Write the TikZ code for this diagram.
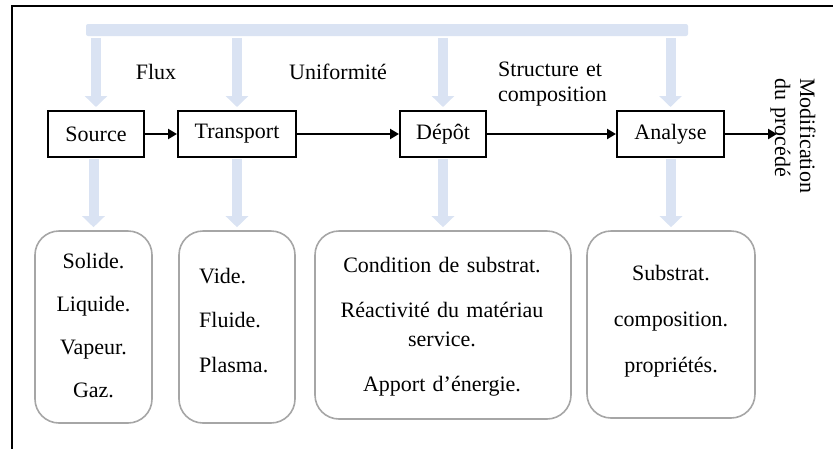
\documentclass[tikz,border=0pt]{standalone}
\usepackage{fontspec}
\setmainfont{Liberation Serif}
\usetikzlibrary{arrows.meta}
\definecolor{lblue}{RGB}{218,227,243}
\definecolor{rgray}{RGB}{166,166,166}
\begin{document}
\begin{tikzpicture}[x=1pt,y=-1pt,
  every node/.style={font=\fontsize{22}{26}\selectfont, inner sep=0pt},
  stage/.style={draw, line width=2pt, minimum height=46pt},
  rbox/.style={draw=rgray, line width=1.6pt, rounded corners=24pt},
  flow/.style={line width=2.8pt, -{Triangle[length=9pt,width=10pt]}},
  barrow/.style={draw=lblue, line width=10pt, -{Triangle[length=11pt,width=22pt]}},
]
\useasboundingbox (0,0) rectangle (833,448);
% outer frame (only top and left edges lie inside the picture)
\draw[line width=2.2pt] (12,470) -- (12,6) -- (860,6);

% top feedback bar
\node[fill=lblue, minimum width=602pt, minimum height=12pt, rounded corners=2pt] (bar) at (387,30) {};

% process stages
\node[stage, minimum width=96pt]  (src) at (96,134)    {Source};
\node[stage, minimum width=118pt] (trn) at (237,134)   {Transport};
\node[stage, minimum width=86pt]  (dep) at (443,134)   {Dépôt};
\node[stage, minimum width=107pt] (ana) at (670.5,134) {Analyse};
\coordinate (out) at (777,134);

\draw[flow] (src) -- (trn);
\draw[flow] (trn) -- (dep);
\draw[flow] (dep) -- (ana);
\draw[flow] (ana) -- (out);

% rounded detail boxes
\node[rbox, minimum width=117pt, minimum height=192pt] (r1) at (93.5,327) {};
\node[rbox, minimum width=116pt, minimum height=192pt] (r2) at (237,327) {};
\node[rbox, minimum width=256pt, minimum height=188pt] (r3) at (443,325) {};
\node[rbox, minimum width=168pt, minimum height=187pt] (r4) at (671,324.5) {};

\node[anchor=base, text width=130pt, align=center, font=\fontsize{22}{43}\selectfont] (t1) at (93.5,268)
  {Solide.\\Liquide.\\Vapeur.\\Gaz.};
\node[anchor=base west, text width=100pt, align=left, font=\fontsize{22}{44.5}\selectfont] (t2) at (199,283)
  {Vide.\\Fluide.\\Plasma.};
\node[anchor=base, text width=250pt, align=center, font=\fontsize{22}{29}\selectfont] (t3) at (442,272)
  {Condition de substrat.\\[16pt]Réactivité du matériau\\service.\\[16pt]Apport d’énergie.};
\node[anchor=base, text width=160pt, align=center, font=\fontsize{22}{46}\selectfont] (t4) at (671,280)
  {Substrat.\\composition.\\propriétés.};

% labels
\node[anchor=base] (lflux) at (156,79) {Flux};
\node[anchor=base] (lunif) at (338,79) {Uniformité};
\node[anchor=base west, text width=130pt, align=left, font=\fontsize{22}{25}\selectfont] (lstr) at (498,76)
  {Structure et\\composition};
\node[anchor=base west, rotate=-90, text width=140pt, align=left, font=\fontsize{22}{25}\selectfont] (lmod) at (800,78)
  {Modification\\du procédé};

% light blue arrows
\draw[barrow, shorten <=2pt, shorten >=3pt] (bar.south -| src) -- (src.north);
\draw[barrow, shorten <=2pt, shorten >=3pt] (bar.south -| trn) -- (trn.north);
\draw[barrow, shorten <=2pt, shorten >=3pt] (bar.south -| dep) -- (dep.north);
\draw[barrow, shorten <=2pt, shorten >=3pt] (bar.south -| ana) -- (ana.north);

\draw[barrow, shorten <=1pt, shorten >=3pt] (r1.north |- src.south) -- (r1.north);
\draw[barrow, shorten <=1pt, shorten >=3pt] (r2.north |- trn.south) -- (r2.north);
\draw[barrow, shorten <=1pt, shorten >=3pt] (r3.north |- dep.south) -- (r3.north);
\draw[barrow, shorten <=1pt, shorten >=3pt] (r4.north |- ana.south) -- (r4.north);
\end{tikzpicture}
\end{document}
